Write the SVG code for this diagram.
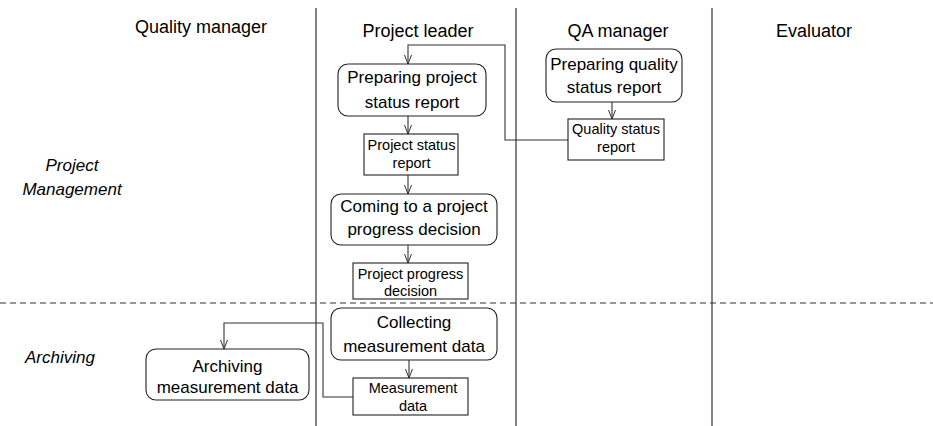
<svg xmlns="http://www.w3.org/2000/svg" width="933" height="426" viewBox="0 0 933 426">
<defs>
<style>
text{font-family:"Liberation Sans",Arial,sans-serif;fill:#000;text-anchor:middle}
.hd{font-size:18px}
.row{font-size:17px;font-style:italic}
.big{font-size:17px}
.sm{font-size:14.5px}
.act{fill:#fff;stroke:#222;stroke-width:1.1}
.obj{fill:#fff;stroke:#222;stroke-width:1.1}
.lane{stroke:#333;stroke-width:1.2;fill:none}
.con{stroke:#333;stroke-width:1.1;fill:none;marker-end:url(#ah)}
</style>
<marker id="ah" markerWidth="10" markerHeight="8" refX="9" refY="4" orient="auto" markerUnits="userSpaceOnUse" viewBox="0 0 10 8">
<path d="M0,0.5 L9,4 L0,7.5" fill="none" stroke="#333" stroke-width="1"/>
</marker>
</defs>
<rect width="933" height="426" fill="#fff"/>
<g id="lanes">
<line class="lane" x1="316" y1="8" x2="316" y2="426"/>
<line class="lane" x1="516" y1="8" x2="516" y2="426"/>
<line class="lane" x1="712" y1="8" x2="712" y2="426"/>
<line x1="0" y1="303" x2="933" y2="303" stroke="#333" stroke-width="1.1" stroke-dasharray="6,4"/>
<text class="hd" x="201" y="33">Quality manager</text>
<text class="hd" x="418" y="37">Project leader</text>
<text class="hd" x="618" y="37">QA manager</text>
<text class="hd" x="814" y="37">Evaluator</text>
<text class="row" x="72" y="171">Project</text>
<text class="row" x="72" y="195">Management</text>
<text class="row" x="60" y="363">Archiving</text>
</g>
<g id="connectors">
<path class="con" d="M568,140 H505 V45 H408 V64"/>
<path class="con" d="M408,116 V134"/>
<path class="con" d="M408,175 V194"/>
<path class="con" d="M408,245 V263"/>
<path class="con" d="M612,102 V119"/>
<path class="con" d="M409,360 V378"/>
<path class="con" d="M353,397 H323 V323 H224 V349"/>
</g>
<g id="prep-project">
<rect class="act" x="338" y="64" width="148" height="52" rx="10"/>
<text class="big" x="412" y="83">Preparing project</text>
<text class="big" x="412" y="108">status report</text>
</g>
<g id="project-status-report">
<rect class="obj" x="364" y="134" width="94" height="41"/>
<text class="sm" x="411.5" y="150">Project status</text>
<text class="sm" x="411.5" y="168">report</text>
</g>
<g id="coming-decision">
<rect class="act" x="331" y="194" width="166" height="51" rx="10"/>
<text class="big" x="414" y="212">Coming to a project</text>
<text class="big" x="414" y="235">progress decision</text>
</g>
<g id="project-progress-decision">
<rect class="obj" x="353" y="263" width="115" height="36"/>
<text class="sm" x="410.5" y="279">Project progress</text>
<text class="sm" x="410.5" y="296">decision</text>
</g>
<g id="prep-quality">
<rect class="act" x="546" y="49" width="136" height="53" rx="10"/>
<text class="big" x="614" y="70">Preparing quality</text>
<text class="big" x="614" y="93">status report</text>
</g>
<g id="quality-status-report">
<rect class="obj" x="568" y="119" width="96" height="41"/>
<text class="sm" x="616" y="134">Quality status</text>
<text class="sm" x="616" y="152">report</text>
</g>
<g id="collecting">
<rect class="act" x="331" y="308" width="166" height="52" rx="10"/>
<text class="big" x="414" y="328">Collecting</text>
<text class="big" x="414" y="352">measurement data</text>
</g>
<g id="measurement-data">
<rect class="obj" x="353" y="378" width="115" height="37"/>
<text class="sm" x="413" y="393">Measurement</text>
<text class="sm" x="413" y="411">data</text>
</g>
<g id="archiving">
<rect class="act" x="146" y="349" width="163" height="51" rx="10"/>
<text class="big" x="227.5" y="372">Archiving</text>
<text class="big" x="227.5" y="393">measurement data</text>
</g>
</svg>
